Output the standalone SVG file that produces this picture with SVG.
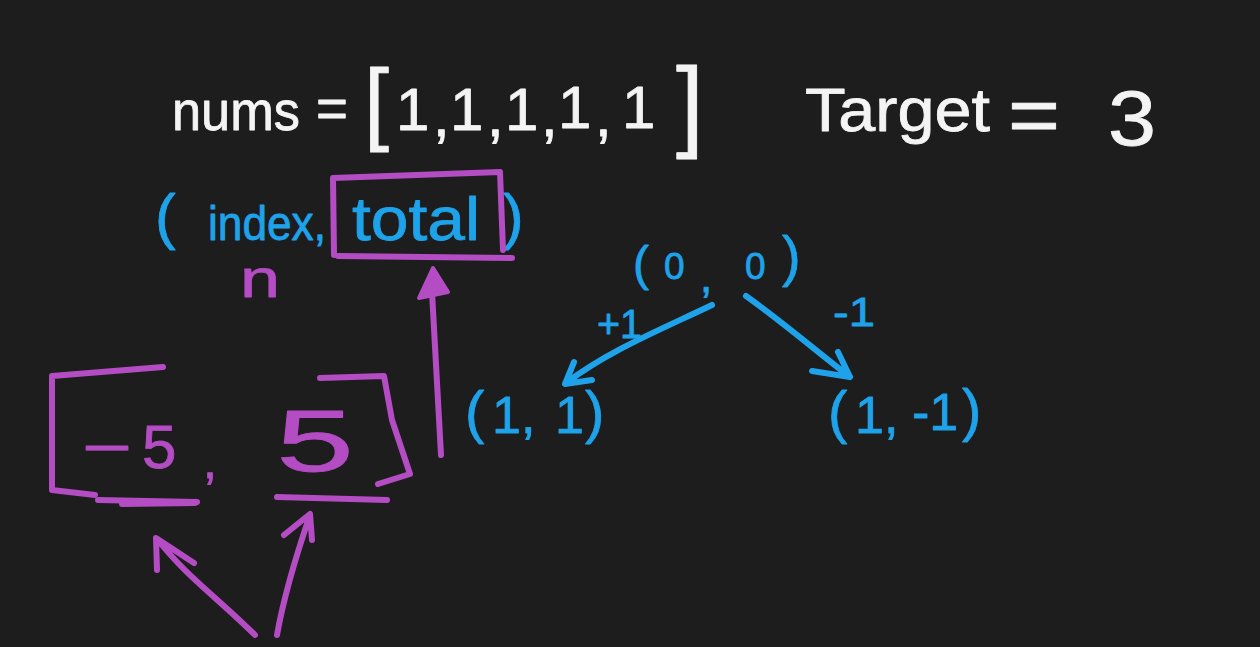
<svg xmlns="http://www.w3.org/2000/svg" width="1260" height="647" viewBox="0 0 1260 647">
<style>
.t{font-family:"Liberation Sans",Arial,sans-serif;stroke-linejoin:round;stroke-width:0.8}
.w{fill:#f4f4f4;stroke:#f4f4f4}
.b{fill:#1ea2ea;stroke:#1ea2ea}
.p{fill:#b44cc4;stroke:#b44cc4}
.ps{fill:none;stroke:#b44cc4;stroke-width:6;stroke-linecap:round;stroke-linejoin:round}
.bs{fill:none;stroke:#1ea2ea;stroke-width:6;stroke-linecap:round;stroke-linejoin:round}
</style>
<rect width="1260" height="647" fill="#1d1d1d"/>
<g id="nums">
<text class="t w" x="172" y="130" font-size="56" textLength="128" lengthAdjust="spacingAndGlyphs">nums</text>
<text class="t w" x="316" y="127" font-size="56" textLength="32" lengthAdjust="spacingAndGlyphs">=</text>
<text class="t w" x="364" y="133" font-size="90">[</text>
<text class="t w" x="396" y="130" font-size="60">1</text>
<text class="t w" x="433" y="136" font-size="60">,</text>
<text class="t w" x="450" y="130" font-size="60">1</text>
<text class="t w" x="487" y="136" font-size="60">,</text>
<text class="t w" x="505" y="130" font-size="60">1</text>
<text class="t w" x="541" y="136" font-size="60">,</text>
<text class="t w" x="558" y="128" font-size="60">1</text>
<text class="t w" x="595" y="136" font-size="60">,</text>
<text class="t w" x="622" y="128" font-size="60">1</text>
<text class="t w" x="676" y="138" font-size="100">]</text>
</g>
<g id="target">
<text class="t w" x="805" y="131" font-size="62" textLength="185" lengthAdjust="spacingAndGlyphs">Target</text>
<text class="t w" x="1008" y="142" font-size="80" textLength="52" lengthAdjust="spacingAndGlyphs">=</text>
<text class="t w" x="1108" y="145" font-size="78" textLength="48" lengthAdjust="spacingAndGlyphs">3</text>
</g>
<g id="state">
<text class="t b" x="155" y="237" font-size="62">(</text>
<text class="t b" x="208" y="240" font-size="48" textLength="118" lengthAdjust="spacingAndGlyphs">index,</text>
<text class="t b" x="352" y="240" font-size="62" textLength="128" lengthAdjust="spacingAndGlyphs">total</text>
<text class="t b" x="503" y="237" font-size="62">)</text>
<path class="ps" d="M333,178 L500,172 L503,250 M333,178 L334,255"/>
<path class="ps" d="M338,256 L512,258" stroke-width="10"/>
<text class="t p" x="240" y="297" font-size="54" textLength="40" lengthAdjust="spacingAndGlyphs">n</text>
</g>
<g id="range">
<path class="ps" d="M163,367 L52,376 L52,490 L95,495"/>
<text class="t p" x="82" y="468" font-size="60" textLength="50" lengthAdjust="spacingAndGlyphs">−</text>
<text class="t p" x="142" y="468" font-size="62">5</text>
<text class="t p" x="203" y="478" font-size="50">,</text>
<text class="t p" x="276" y="471" font-size="88" textLength="78" lengthAdjust="spacingAndGlyphs">5</text>
<path class="ps" d="M320,378 L384,376 L392,420 L410,474 L378,484"/>
<path class="ps" d="M98,500 L197,502"/>
<path class="ps" d="M122,504 L195,503" stroke-width="9"/>
<path class="ps" d="M277,497 L387,500"/>
</g>
<g id="root">
<text class="t b" x="633" y="280" font-size="48">(</text>
<text class="t b" x="664" y="279" font-size="37">0</text>
<text class="t b" x="700" y="292" font-size="44">,</text>
<text class="t b" x="745" y="279" font-size="37">0</text>
<text class="t b" x="782" y="275" font-size="56">)</text>
</g>
<g id="left">
<text class="t b" x="465" y="432" font-size="58">(</text>
<text class="t b" x="492" y="433" font-size="52">1,</text>
<text class="t b" x="555" y="433" font-size="52">1</text>
<text class="t b" x="585" y="432" font-size="58">)</text>
</g>
<g id="right">
<text class="t b" x="828" y="432" font-size="58">(</text>
<text class="t b" x="855" y="433" font-size="52">1,</text>
<text class="t b" x="912" y="430" font-size="52">-1</text>
<text class="t b" x="962" y="430" font-size="58">)</text>
</g>
<g id="connectors">
<path class="bs" d="M712,305 C660,330 610,350 566,383 M574,362 L565,384 L592,380"/>
<text class="t b" x="597" y="338" font-size="40" textLength="45" lengthAdjust="spacingAndGlyphs">+1</text>
<path class="bs" d="M746,296 C780,320 815,350 850,377 M838,352 L850,377 L812,371"/>
<text class="t b" x="833" y="326" font-size="40" textLength="42" lengthAdjust="spacingAndGlyphs">-1</text>
<path class="ps" d="M441,455 L432,292"/>
<polygon points="433,268 419,298 448,292" fill="#b44cc4" stroke="#b44cc4" stroke-width="4" stroke-linejoin="round"/>
<path class="ps" d="M255,635 C220,600 185,575 158,540 M157,570 L156,538 L194,563"/>
<path class="ps" d="M277,635 C285,590 298,550 310,515 M284,535 L310,514 L312,540"/>
</g>
</svg>
